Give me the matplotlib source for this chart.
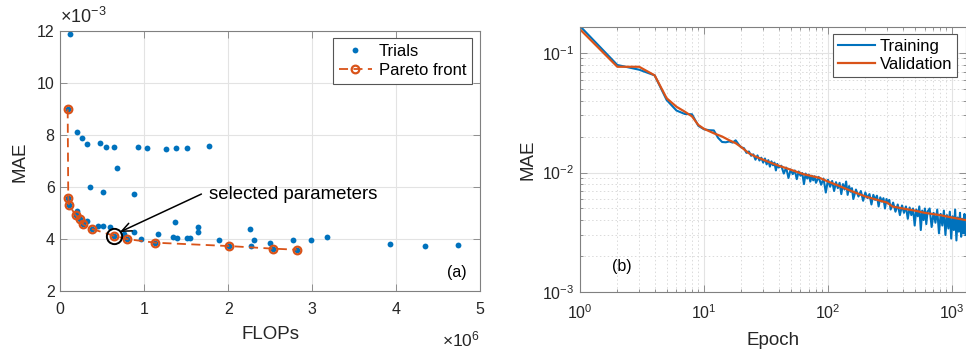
import matplotlib
matplotlib.use("Agg")
import matplotlib.pyplot as plt
from matplotlib.ticker import FixedLocator, LogLocator, NullFormatter

plt.rcParams["font.family"] = ["Liberation Sans", "DejaVu Sans"]
plt.rcParams["mathtext.fontset"] = "custom"
plt.rcParams["mathtext.rm"] = "Liberation Sans"
plt.rcParams["mathtext.it"] = "Liberation Sans:italic"

BLUE = "#0072BD"
ORANGE = "#D95319"
SPINE = "#808080"
TEXT = "#262626"

# ---- (a) hyperparameter search: FLOPs in 1e6, MAE in 1e-3 ----
trial_flops = [0.115, 0.088, 0.195, 0.255, 0.32, 0.47, 0.55, 0.635, 0.92, 1.03,
               1.255, 1.377, 1.505, 1.77, 0.68, 0.355, 0.505, 0.88, 0.095, 0.104,
               0.205, 0.183, 0.235, 0.317, 0.27, 0.375, 0.445, 0.505, 0.595, 0.635,
               0.758, 0.79, 0.883, 0.955, 1.13, 1.16, 1.36, 1.345, 1.385, 1.51,
               1.545, 1.635, 1.635, 1.89, 2.01, 2.26, 2.265, 2.31, 2.50, 2.535,
               2.77, 2.815, 2.98, 3.175, 3.93, 4.34, 4.74]
trial_mae = [11.9, 9.0, 8.12, 7.88, 7.67, 7.70, 7.56, 7.56, 7.56, 7.52,
             7.47, 7.52, 7.50, 7.60, 6.76, 6.02, 5.83, 5.73, 5.58, 5.33,
             5.08, 4.92, 4.79, 4.72, 4.57, 4.40, 4.51, 4.51, 4.47, 4.14,
             4.19, 4.01, 4.27, 4.01, 3.87, 4.20, 4.65, 4.08, 4.04, 4.04,
             4.05, 4.48, 4.28, 3.98, 3.74, 4.38, 3.75, 3.97, 3.85, 3.64,
             3.96, 3.60, 3.96, 4.07, 3.82, 3.73, 3.78]

pareto_flops = [0.088, 0.095, 0.104, 0.183, 0.235, 0.27, 0.375, 0.635, 0.79,
                1.13, 2.01, 2.535, 2.815]
pareto_mae = [9.0, 5.58, 5.33, 4.92, 4.79, 4.57, 4.40, 4.14, 4.01,
              3.87, 3.74, 3.64, 3.60]

selected_flops = 0.635
selected_mae = 4.14

# ---- (b) learning curves ----
train_epoch = [1, 2, 3, 4, 5, 6, 7, 8, 9, 10, 11, 12, 13, 14, 15, 16, 17, 18, 19, 20,
               21, 22, 23, 24, 25, 26, 27, 28, 29, 30, 31, 32, 33, 34, 35, 36, 37, 38, 39, 40,
               42, 44, 46, 48, 50, 52, 54, 56, 58, 60, 62, 64, 66, 68, 70, 72, 74, 76, 78, 80,
               84, 88, 92, 96, 100, 104, 108, 112, 116, 120, 124, 128, 132, 136, 140, 144,
               148, 152, 156, 160,
               168, 176, 184, 192, 200, 208, 216, 224, 232, 240, 248, 256, 264, 272, 280,
               288, 296, 304, 312, 320,
               335, 350, 365, 380, 395, 410, 425, 440, 455, 470, 485, 500, 515, 530, 545,
               560, 575, 590, 605, 620, 635,
               660, 685, 710, 735, 760, 785, 810, 835, 860, 885, 910, 935, 960, 985, 1010,
               1035, 1060, 1085, 1110, 1135, 1160, 1185, 1210, 1235, 1260, 1285]
train_mae = [0.168, 0.0794, 0.0725, 0.0650, 0.0404, 0.0330, 0.0309, 0.0307, 0.0246, 0.0230,
             0.0226, 0.0225, 0.0195, 0.0180, 0.0179, 0.0182, 0.0178, 0.0186, 0.0172, 0.0162,
             0.0160, 0.0146, 0.0150, 0.0138, 0.0142, 0.0128, 0.0139, 0.0126, 0.0133, 0.0121,
             0.0131, 0.0117, 0.0127, 0.0112, 0.0124, 0.0115, 0.0121, 0.0104, 0.0118, 0.0110,
             0.0114, 0.0098, 0.0110, 0.0090, 0.0106, 0.0097, 0.0104, 0.0088, 0.0102, 0.0094,
             0.0099, 0.0080, 0.0098, 0.0089, 0.0096, 0.0084, 0.0094, 0.0086, 0.0093, 0.0082,
             0.0092, 0.0079, 0.0089, 0.0068, 0.0087, 0.0076, 0.0085, 0.0070, 0.0083, 0.0074,
             0.0082, 0.0066, 0.0080, 0.0072, 0.0084, 0.0065, 0.0077, 0.0069, 0.0074, 0.0060,
             0.0072, 0.0063, 0.0070, 0.0058, 0.0068, 0.0061, 0.0066, 0.0054, 0.0065, 0.0059,
             0.0064, 0.0052, 0.0062, 0.0057, 0.0061, 0.0050, 0.0060, 0.0055, 0.0059, 0.0049,
             0.0056, 0.0047, 0.0054, 0.0044, 0.0053, 0.0046, 0.0052, 0.0041, 0.0051, 0.0044,
             0.0050, 0.0036, 0.0049, 0.0043, 0.0052, 0.0033, 0.0048, 0.0040, 0.0050, 0.0037,
             0.0047,
             0.0050, 0.0035, 0.0046, 0.0038, 0.0049, 0.0031, 0.0045, 0.0036, 0.0048, 0.0030,
             0.0044, 0.0034, 0.0047, 0.0028, 0.0043, 0.0033, 0.0049, 0.0027, 0.0042, 0.0032,
             0.0046, 0.0029, 0.0041, 0.0031, 0.0045, 0.0030]

val_epoch = [1, 2, 3, 4, 5, 6, 7, 8, 9, 10, 12, 14, 16, 18, 20, 23, 26, 30, 35, 40,
             47, 55, 63, 75, 86, 100, 120, 140, 160, 200, 250, 300, 330, 400, 500,
             600, 800, 1000, 1285]
val_mae = [0.158, 0.0767, 0.0767, 0.0650, 0.0418, 0.0355, 0.0323, 0.0295, 0.0250, 0.0232,
           0.0213, 0.0200, 0.0186, 0.0176, 0.0163, 0.0145, 0.0136, 0.0128, 0.0120, 0.0114,
           0.0108, 0.0102, 0.0097, 0.0093, 0.0090, 0.0084, 0.0078, 0.0073, 0.0069, 0.0063,
           0.0059, 0.0056, 0.0052, 0.0050, 0.0048, 0.0046, 0.0044, 0.0042, 0.0040]


def matlab_axes(ax):
    for s in ax.spines.values():
        s.set_color(SPINE)
        s.set_linewidth(0.8)
    ax.tick_params(which="both", direction="in", top=True, right=True,
                   color=SPINE, labelcolor=TEXT, labelsize=11.5, width=0.6)
    ax.tick_params(which="major", length=5)
    ax.tick_params(which="minor", length=2.5)
    ax.tick_params(axis="x", which="both", pad=8)
    ax.tick_params(axis="y", which="both", pad=4)
    ax.set_axisbelow(True)


fig = plt.figure(figsize=(9.66, 3.5), dpi=100)
ax1 = fig.add_axes([0.0624, 0.1677, 0.4348, 0.7429])
ax2 = fig.add_axes([0.6004, 0.1657, 0.3991, 0.7571])

# left panel
matlab_axes(ax1)
ax1.grid(True, color="#e3e3e3", lw=0.8)
ax1.plot(trial_flops, trial_mae, "o", color=BLUE, ms=4.2, mew=0, label="Trials")
ax1.plot(pareto_flops, pareto_mae, "--o", color=ORANGE, lw=1.3, ms=5.5, mfc="none",
         mew=1.6, dashes=(5, 3), label="Pareto front")
ax1.plot([selected_flops], [selected_mae], "o", ms=11, mfc="none", mec="black", mew=1.4)
ax1.annotate("", xy=(0.71, 4.28), xytext=(1.68, 5.74),
             arrowprops=dict(arrowstyle="->,head_length=0.7,head_width=0.3",
                             color="black", lw=1.1, shrinkA=0, shrinkB=0))
ax1.text(1.77, 5.74, "selected parameters", fontsize=13.4, color="black",
         va="center", ha="left")
ax1.text(4.72, 2.72, "(a)", fontsize=11.5, color="black", ha="center", va="center")
ax1.set_xlim(0, 5)
ax1.set_ylim(2, 12)
ax1.xaxis.set_major_locator(FixedLocator([0, 1, 2, 3, 4, 5]))
ax1.yaxis.set_major_locator(FixedLocator([2, 4, 6, 8, 10, 12]))
ax1.set_xlabel("FLOPs", fontsize=13.5, color=TEXT, labelpad=6)
ax1.set_ylabel("MAE", fontsize=13.5, color=TEXT, labelpad=6)
ax1.text(0.0, 1.015, r"$\times10^{-3}$", transform=ax1.transAxes, fontsize=13,
         color=TEXT, ha="left", va="bottom")
ax1.text(1.0, -0.185, r"$\times10^{6}$", transform=ax1.transAxes, fontsize=12.5,
         color=TEXT, ha="right", va="center")
leg1 = ax1.legend(loc="upper right", bbox_to_anchor=(0.98, 0.975), borderaxespad=0,
                  fontsize=12, frameon=True, fancybox=False, framealpha=1,
                  edgecolor="#555555", handlelength=2.0, handletextpad=0.4,
                  labelspacing=0.25, borderpad=0.35)
leg1.get_frame().set_linewidth(0.8)

# right panel
matlab_axes(ax2)
ax2.set_xscale("log")
ax2.set_yscale("log")
ax2.grid(True, which="major", color="#e3e3e3", lw=0.8)
ax2.grid(True, which="minor", color="#dadada", lw=0.7, ls=(0, (1.5, 2.5)))
ax2.plot(train_epoch, train_mae, color=BLUE, lw=1.5, label="Training")
ax2.plot(val_epoch, val_mae, color=ORANGE, lw=1.6, label="Validation")
ax2.set_xlim(1, 1285)
ax2.set_ylim(1e-3, 0.165)
ax2.xaxis.set_major_locator(LogLocator(base=10, numticks=10))
ax2.yaxis.set_major_locator(LogLocator(base=10, numticks=10))
ax2.xaxis.set_minor_locator(LogLocator(base=10, subs=range(2, 10), numticks=20))
ax2.yaxis.set_minor_locator(LogLocator(base=10, subs=range(2, 10), numticks=20))
ax2.xaxis.set_minor_formatter(NullFormatter())
ax2.yaxis.set_minor_formatter(NullFormatter())
ax2.set_xlabel("Epoch", fontsize=13.5, color=TEXT, labelpad=7)
ax2.set_ylabel("MAE", fontsize=13.5, color=TEXT, labelpad=4)
ax2.text(1.82, 0.00162, "(b)", fontsize=11.5, color="black", ha="left", va="center")
leg2 = ax2.legend(loc="upper right", bbox_to_anchor=(1 - 8.5 / 385.5, 1 - 7 / 265),
                  borderaxespad=0, fontsize=12, frameon=True, fancybox=False,
                  framealpha=1, edgecolor="#555555", handlelength=2.2,
                  handletextpad=0.3, labelspacing=0.15, borderpad=0.3)
leg2.get_frame().set_linewidth(0.8)

fig.savefig("out.png", dpi=100)
